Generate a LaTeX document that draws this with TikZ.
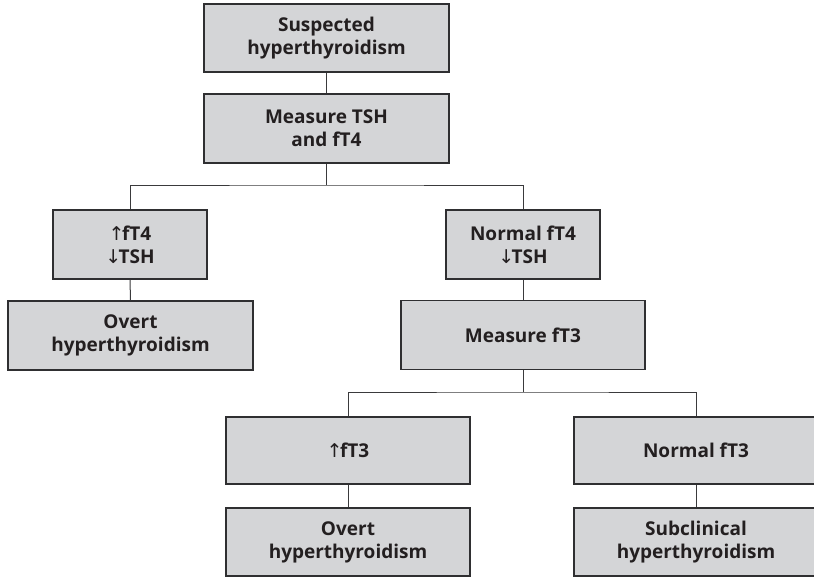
\documentclass[tikz,border=0pt]{standalone}
\usepackage{fontspec}
\setmainfont{Open Sans}
\newfontfamily\arrowfont{DejaVu Sans}
\definecolor{boxfill}{HTML}{D4D5D7}
\definecolor{boxline}{HTML}{2F2F31}
\definecolor{txt}{HTML}{231F20}
\definecolor{conn}{HTML}{3A3A3C}
\newcommand{\upar}{{\arrowfont\mdseries\char"2191}\kern-2.5pt}
\newcommand{\dnar}{{\arrowfont\mdseries\char"2193}\kern-2.5pt}
\begin{document}
\begin{tikzpicture}[x=1pt,y=-1pt,
  flowbox/.style={draw=boxline,fill=boxfill,line width=1.3pt,rectangle,
    minimum width=#1,minimum height=69pt,inner sep=0pt,align=center,
    text=txt,font=\fontsize{19}{23}\selectfont\bfseries},
  flowbox/.default=245pt,
  link/.style={draw=conn,line width=1pt}]
\useasboundingbox (0,0) rectangle (814,576);
\clip (0,0) rectangle (814,576);
\node[flowbox,minimum height=68pt] (b1) at (326.5,38) {Suspected\\hyperthyroidism};
\node[flowbox] (b2) at (326.5,128.5) {Measure TSH\\and fT4};
\node[flowbox=154pt] (b3) at (130,244.5) {\upar fT4\\\dnar TSH};
\node[flowbox] (b4) at (130.5,335.5) {Overt\\hyperthyroidism};
\node[flowbox=154pt] (b5) at (523,244.5) {Normal fT4\\\dnar TSH};
\node[flowbox=244pt] (b6) at (523,335) {Measure fT3};
\node[flowbox=244pt,minimum height=67pt] (b7) at (348,450.5) {\upar fT3};
\node[flowbox=244pt,minimum height=67pt] (b8) at (696,450.5) {Normal fT3};
\node[flowbox=244pt,minimum height=68pt] (b9) at (348,542) {Overt\\hyperthyroidism};
\node[flowbox=244pt,minimum height=68pt] (b10) at (696,542) {Subclinical\\hyperthyroidism};
\coordinate (j1) at (326.5,185);
\coordinate (j2) at (523,392);
\draw[link] (b1.south) -- (b2.north);
\draw[link] (b2.south) -- (j1);
\draw[link] (b3.north) |- (j1) -| (b5.north);
\draw[link] (b3.south) -- (b4.north);
\draw[link] (b5.south) -- (b6.north);
\draw[link] (b6.south) -- (j2);
\draw[link] (b7.north) |- (j2) -| (b8.north);
\draw[link] (b7.south) -- (b9.north);
\draw[link] (b8.south) -- (b10.north);
\end{tikzpicture}
\end{document}
